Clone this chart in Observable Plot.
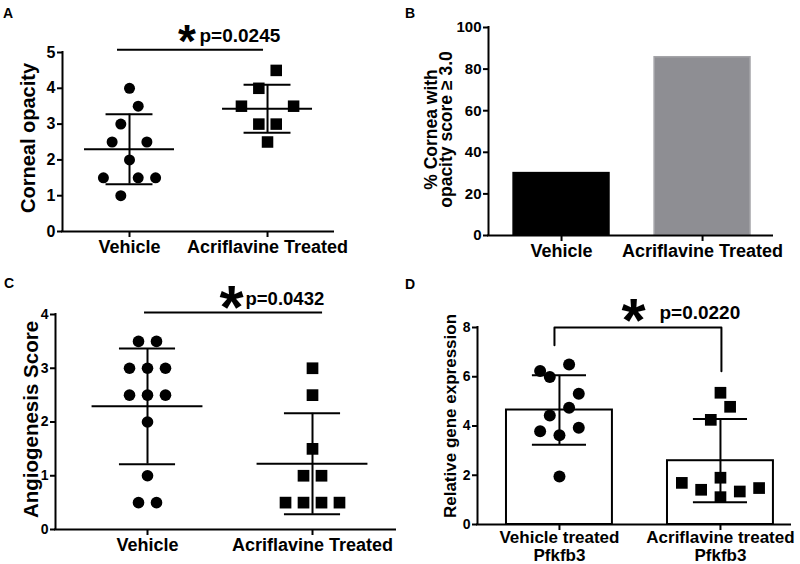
<!DOCTYPE html>
<html><head><meta charset="utf-8">
<script src="https://cdn.jsdelivr.net/npm/d3@7"></script>
<script src="https://cdn.jsdelivr.net/npm/@observablehq/plot@0.6"></script>
<style>
body{margin:0;background:#fff;}
#wrap{position:relative;width:800px;height:564px;overflow:hidden;font-family:"Liberation Sans",Arial,sans-serif;font-weight:bold;color:#000;}
.panel{position:absolute;}
.lbl{position:absolute;font-size:14px;line-height:14px;font-weight:bold;}
</style></head><body><div id="wrap"></div>
<script>
// ---------- data ----------
const groupsABC = ["Vehicle", "Acriflavine Treated"];
const groupsD = ["Vehicle treated\nPfkfb3", "Acriflavine treated\nPfkfb3"];
const panelLetters = ["A", "B", "C", "D"];

// A: corneal opacity (values, and column slot of each dot in the scatter)
const opacityVehicle = [4.0, 3.5, 3.0, 2.5, 2.5, 2.0, 1.5, 1.5, 1.5, 1.0];
const opacityVehicleSlot = [0, 1, -1, -2, 2, 0, -3, 1, 3, -1];
const opacityAcri = [4.5, 4.0, 3.5, 3.5, 3.0, 3.0, 2.5];
const opacityAcriSlot = [1, -1, -3, 3, -1, 1, 0];
const yTicksA = [0, 1, 2, 3, 4, 5];

// B: % cornea with opacity score >= 3.0
const pctOpacity3 = [30, 85.7];
const yTicksB = [0, 20, 40, 60, 80, 100];

// C: angiogenesis score
const angioVehicle = [3.5, 3.5, 3.0, 3.0, 3.0, 2.5, 2.5, 2.5, 2.0, 1.0, 0.5, 0.5];
const angioVehicleSlot = [-1, 1, -2, 0, 2, -2, 0, 2, 0, 0, -1, 1];
const angioAcri = [3.0, 2.5, 1.5, 1.0, 1.0, 0.5, 0.5, 0.5, 0.5];
const angioAcriSlot = [0, 0, 0, -1, 1, -3, -1, 1, 3];
const yTicksC = [0, 1, 2, 3, 4];

// D: relative Pfkfb3 gene expression
const pfkVehicle = [6.23, 6.50, 5.99, 5.31, 4.74, 4.43, 3.79, 3.93, 3.62, 1.95];
const pfkVehicleSlot = [-2, 1, -1, 2, 1, -1, -2, 2, 0, 0];
const pfkAcri = [5.35, 4.78, 4.25, 1.90, 1.69, 1.41, 1.11, 1.34, 1.48];
const pfkAcriSlot = [0, 1, -1, 0, -4, -2, 0, 2, 4];
const yTicksD = [0, 2, 4, 6, 8];

const yLabels = ["Corneal opacity", "% Cornea with\nopacity score \u2265 3.0", "Angiogenesis Score", "Relative gene expression"];
const pValues = ["p=0.0245", "p=0.0432", "p=0.0220"];

// ---------- helpers ----------
const FONT = '"Liberation Sans", Arial, sans-serif';
const baseStyle = {fontFamily: FONT, fontWeight: "bold", color: "black", background: "transparent", overflow: "visible"};
const pts = (vals, slots, g, step) => vals.map((v, i) => ({x: g + slots[i] * step, y: v}));
const stat = (vals, g) => { const m = d3.mean(vals), s = d3.deviation(vals); return {g, m, lo: m - s, hi: m + s}; };

function errMarks(st, halfMean, halfCap) {
  const o = {strokeWidth: 2};
  const m = [
    Plot.ruleX(st, {x: "g", y1: "lo", y2: "hi", ...o}),
    Plot.ruleY(st, {y: "lo", x1: d => d.g - halfCap, x2: d => d.g + halfCap, ...o}),
    Plot.ruleY(st, {y: "hi", x1: d => d.g - halfCap, x2: d => d.g + halfCap, ...o})
  ];
  if (halfMean) m.push(Plot.ruleY(st, {y: "m", x1: d => d.g - halfMean, x2: d => d.g + halfMean, ...o}));
  return m;
}
function axes({xlo, yTicks, yFont, xLabels, xFont, xLineHeight = 1, xPad = 3}) {
  return [
    Plot.axisY(yTicks, {tickSize: 5, tickPadding: 2, strokeWidth: 2, fontSize: yFont, fontWeight: "bold", tickFormat: d => String(d), label: null}),
    Plot.axisX([0, 1], {tickFormat: i => xLabels[i], tickSize: 6, tickPadding: xPad, strokeWidth: 2, fontSize: xFont, fontWeight: "bold", lineHeight: xLineHeight, label: null}),
    Plot.ruleX([xlo], {strokeWidth: 2, strokeLinecap: "square"}),
    Plot.ruleY([0], {strokeWidth: 2, strokeLinecap: "square"})
  ];
}
function yLabel(text, dx, dy, fs, lh = 1) {
  return Plot.text([text], {frameAnchor: "left", textAnchor: "middle", lineAnchor: "middle", rotate: -90, dx, dy, fontSize: fs, fontWeight: "bold", lineHeight: lh, fill: "black"});
}
function star(x, y, fs) {
  return Plot.text(["*"], {x: () => x, y: () => y, fontSize: fs, fontWeight: "bold", dy: 0.12 * fs, fill: "black"});
}
function ptext(t, x, y, fs) {
  return Plot.text([t], {x: () => x, y: () => y, fontSize: fs, fontWeight: "bold", textAnchor: "start", lineAnchor: "bottom", fill: "black"});
}

const wrap = document.getElementById("wrap");
function place(svg, left, top) {
  svg.classList.add("panel");
  svg.style.left = left + "px";
  svg.style.top = top + "px";
  svg.style.position = "absolute";
  wrap.appendChild(svg);
}

// ---------- Panel A ----------
{
  const dom = [-0.4855, 1.478], step = 0.063;
  const st = [stat(opacityVehicle, 0), stat(opacityAcri, 1)];
  const yMax = d3.max(yTicksA);
  const p = Plot.plot({
    width: 400, height: 270, marginLeft: 62, marginRight: 67, marginTop: 52, marginBottom: 39,
    style: baseStyle,
    x: {type: "linear", domain: dom}, y: {domain: [0, yMax]},
    marks: [
      ...axes({xlo: dom[0], yTicks: yTicksA, yFont: 16, xLabels: groupsABC, xFont: 18}),
      yLabel(yLabels[0], -34, -4, 20),
      ...errMarks(st, 0.326, 0.17),
      Plot.dot(pts(opacityVehicle, opacityVehicleSlot, 0, step), {x: "x", y: "y", r: 5.5, fill: "black", stroke: null}),
      Plot.dot(pts(opacityAcri, opacityAcriSlot, 1, step), {x: "x", y: "y", r: 6.5, symbol: "square", fill: "black", stroke: null}),
      Plot.ruleY([yMax * 1.016], {x1: -0.087, x2: 0.971, strokeWidth: 2}),
      star(0.417, yMax * 1.086, 46),
      ptext(pValues[0], 0.507, yMax * 1.056, 19)
    ]
  });
  place(p, 0, 0);
}

// ---------- Panel B ----------
{
  const dom = [-0.518, 1.496], half = 0.34;
  const bars = pctOpacity3.map((v, i) => ({g: i, v}));
  const p = Plot.plot({
    width: 400, height: 270, marginLeft: 88, marginRight: 28, marginTop: 27, marginBottom: 35,
    style: baseStyle,
    x: {type: "linear", domain: dom}, y: {domain: [0, 100]},
    marks: [
      Plot.rectY(bars, {x1: d => d.g - half, x2: d => d.g + half, y: "v", fill: (d, i) => i === 0 ? "#000000" : "#8e8e93", stroke: (d, i) => i === 0 ? "#000000" : "#a4a4a8", strokeWidth: 1.5}),
      ...axes({xlo: dom[0], yTicks: yTicksB, yFont: 15, xLabels: groupsABC, xFont: 18}),
      yLabel(yLabels[1], -48.5, -2, 17.5, 0.86)
    ]
  });
  place(p, 400, 0);
}

// ---------- Panel C ----------
{
  const dom = [-0.5576, 1.503], step = 0.0545;
  const st = [stat(angioVehicle, 0), stat(angioAcri, 1)];
  const yMax = d3.max(yTicksC);
  const p = Plot.plot({
    width: 400, height: 294, marginLeft: 55, marginRight: 5, marginTop: 44, marginBottom: 35,
    style: baseStyle,
    x: {type: "linear", domain: dom}, y: {domain: [0, yMax]},
    marks: [
      ...axes({xlo: dom[0], yTicks: yTicksC, yFont: 14, xLabels: groupsABC, xFont: 18}),
      yLabel(yLabels[2], -24, -2.5, 20.5),
      ...errMarks(st, 0.336, 0.17),
      Plot.dot(pts(angioVehicle, angioVehicleSlot, 0, step), {x: "x", y: "y", r: 5.8, fill: "black", stroke: null}),
      Plot.dot(pts(angioAcri, angioAcriSlot, 1, step), {x: "x", y: "y", r: 6.6, symbol: "square", fill: "black", stroke: null}),
      Plot.ruleY([yMax * 1.009], {x1: -0.018, x2: 1.061, strokeWidth: 2}),
      star(0.509, yMax * 1.065, 62),
      ptext(pValues[1], 0.594, yMax * 1.042, 18.5)
    ]
  });
  place(p, 0, 270);
}

// ---------- Panel D ----------
{
  const dom = [-0.509, 1.435], step = 0.06, half = 0.329;
  const st = [stat(pfkVehicle, 0), stat(pfkAcri, 1)];
  const yMax = d3.max(yTicksD);
  const p = Plot.plot({
    width: 400, height: 294, marginLeft: 77, marginRight: 10, marginTop: 57, marginBottom: 40,
    style: baseStyle,
    x: {type: "linear", domain: dom}, y: {domain: [0, yMax]},
    marks: [
      Plot.rectY(st, {x1: d => d.g - half, x2: d => d.g + half, y: "m", fill: "white", stroke: "black", strokeWidth: 2}),
      ...axes({xlo: dom[0], yTicks: yTicksD, yFont: 14, xLabels: groupsD, xFont: 17, xLineHeight: 1.06, xPad: 0}),
      yLabel(yLabels[3], -27, -10, 17),
      ...errMarks(st, 0, 0.168),
      Plot.dot(pts(pfkVehicle, pfkVehicleSlot, 0, step), {x: "x", y: "y", r: 6, fill: "black", stroke: null}),
      Plot.dot(pts(pfkAcri, pfkAcriSlot, 1, step), {x: "x", y: "y", r: 6.6, symbol: "square", fill: "black", stroke: null}),
      Plot.line([{x: -0.031, y: 7.28}, {x: -0.031, y: yMax}, {x: 1.006, y: yMax}, {x: 1.006, y: 6.22}], {x: "x", y: "y", strokeWidth: 2, stroke: "black"}),
      star(0.46, yMax * 1.0675, 62),
      ptext(pValues[2], 0.621, yMax * 1.041, 19)
    ]
  });
  place(p, 400, 270);
}

// ---------- panel letters ----------
const letterPos = [[3, 6], [405, 6], [4, 276], [405, 277]];
panelLetters.forEach((t, i) => {
  const d = document.createElement("div");
  d.className = "lbl";
  d.textContent = t;
  d.style.left = letterPos[i][0] + "px";
  d.style.top = letterPos[i][1] + "px";
  wrap.appendChild(d);
});
</script>
</body></html>
